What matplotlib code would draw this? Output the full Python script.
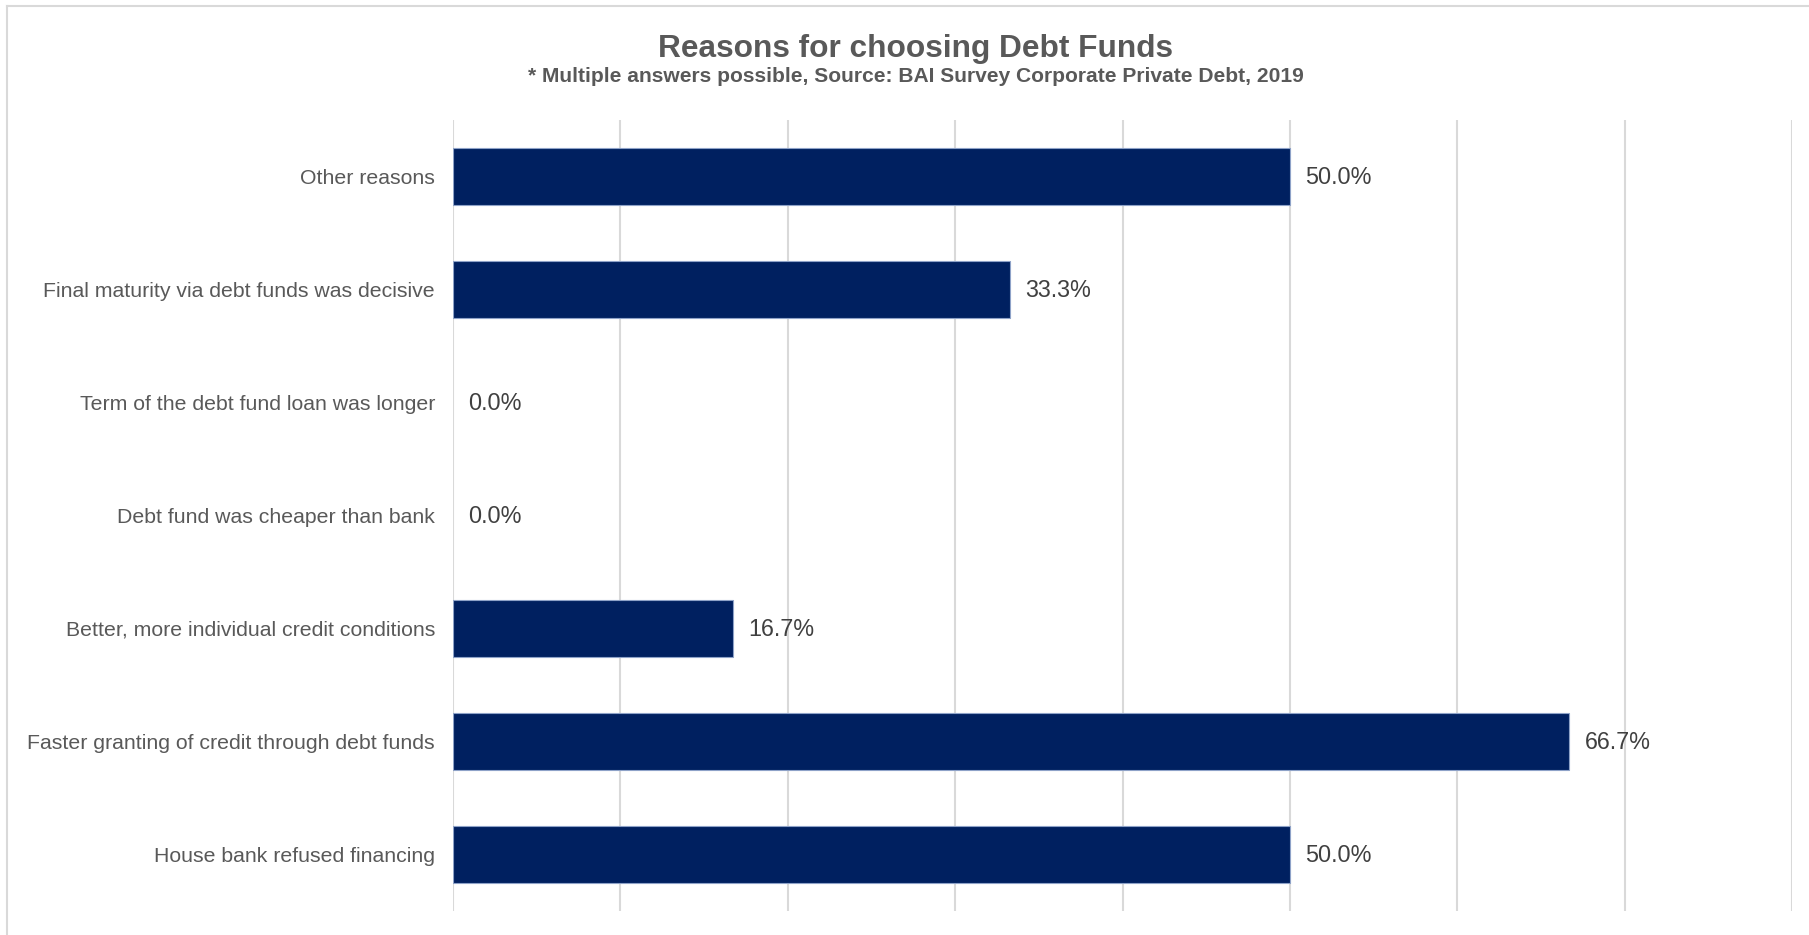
import matplotlib
matplotlib.use("Agg")
import matplotlib.pyplot as plt
from matplotlib.lines import Line2D

plt.rcParams['font.family'] = ['Liberation Sans', 'DejaVu Sans']

# Survey answers, listed top to bottom
categories = [
    "Other reasons",
    "Final maturity via debt funds was decisive",
    "Term of the debt fund loan was longer",
    "Debt fund was cheaper than bank",
    "Better, more individual credit conditions",
    "Faster granting of credit through debt funds",
    "House bank refused financing",
]
shares = [50.0, 33.3, 0.0, 0.0, 16.7, 66.7, 50.0]
value_labels = ["50.0%", "33.3%", "0.0%", "0.0%", "16.7%", "66.7%", "50.0%"]
x_ticks = [0, 10, 20, 30, 40, 50, 60, 70, 80]

title = "Reasons for choosing Debt Funds"
subtitle = "* Multiple answers possible, Source: BAI Survey Corporate Private Debt, 2019"

W, H = 1809, 935
fig = plt.figure(figsize=(W / 100, H / 100), dpi=100)
fig.patch.set_facecolor("white")

ax = fig.add_axes([453 / W, 1 - 911 / H, (1792 - 453) / W, (911 - 120) / H])

ypos = list(range(len(categories)))
bars = ax.barh(ypos, shares, height=0.5, color="#002060", edgecolor="#8EA2C8",
               linewidth=0.8, zorder=3)
for b, v in zip(bars, shares):
    if v == 0:
        b.set_linewidth(0)

for y, v, lab in zip(ypos, shares, value_labels):
    ax.annotate(lab, xy=(v, y), xytext=(11, -1), textcoords="offset points",
                ha="left", va="center", fontsize=16.8, color="#404040",
                zorder=4)

ax.set_xlim(x_ticks[0], x_ticks[-1])
ax.set_ylim(len(categories) - 0.5, -0.5)
ax.set_xticks(x_ticks)
ax.set_xticklabels([])
ax.tick_params(axis="x", length=0)
ax.set_yticks(ypos)
ax.set_yticklabels(categories, fontsize=15.3, color="#595959")
ax.tick_params(axis="y", length=0, pad=13)
ax.grid(axis="x", color="#D9D9D9", linewidth=1.5, zorder=0)
for s in ax.spines.values():
    s.set_visible(False)

fig.text(916 / W, 1 - 49 / H, title, ha="center", va="center",
         fontsize=22.8, fontweight="bold", color="#595959")
fig.text(916 / W, 1 - 77 / H, subtitle, ha="center", va="center",
         fontsize=15.1, fontweight="bold", color="#595959")

# light outer frame (top and left edges)
fig.add_artist(Line2D([7 / W, 1], [1 - 6 / H, 1 - 6 / H], color="#D9D9D9",
                      linewidth=1.5, transform=fig.transFigure))
fig.add_artist(Line2D([7 / W, 7 / W], [0, 1 - 6 / H], color="#D9D9D9",
                      linewidth=1.5, transform=fig.transFigure))

fig.savefig("out.png", dpi=100)
